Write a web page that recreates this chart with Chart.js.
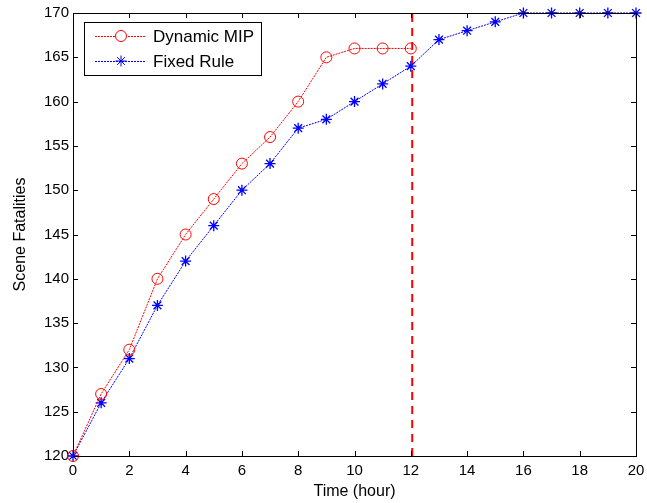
<!DOCTYPE html>
<html>
<head>
<meta charset="utf-8">
<script src="https://cdn.jsdelivr.net/npm/chart.js@4.4.0/dist/chart.umd.min.js"></script>
<style>
  html, body { margin: 0; padding: 0; background: #fff; }
  #wrap { width: 647px; height: 503px; position: relative; }
</style>
</head>
<body>
<div id="wrap"><canvas id="chart" width="647" height="503"></canvas></div>
<script>
const hours = [0, 1, 2, 3, 4, 5, 6, 7, 8, 9, 10, 11, 12, 13, 14, 15, 16, 17, 18, 19, 20];
const dynamicMip = [120, 127, 132, 140, 145, 149, 153, 156, 160, 165, 166, 166, 166];
const fixedRule = [120, 126, 131, 137, 142, 146, 150, 153, 157, 158, 160, 162, 164, 167, 168, 169, 170, 170, 170, 170, 170];
const switchHour = 12.05;
const yRange = [120, 170];

const FONT = "Arial, 'Liberation Sans', sans-serif";

function toPoints(values) {
  return values.map((v, i) => ({ x: hours[i], y: v }));
}

// box, inside ticks and the legend, drawn the way matlab does it
const matlabFrame = {
  id: "matlabFrame",
  afterDatasetsDraw(chart) {
    const { ctx, chartArea: a, scales } = chart;
    ctx.save();
    ctx.strokeStyle = "#000";
    ctx.lineWidth = 1;
    ctx.strokeRect(Math.round(a.left) + 0.5, Math.round(a.top) + 0.5, Math.round(a.right - a.left), Math.round(a.bottom - a.top));

    ctx.beginPath();
    scales.x.ticks.forEach((t) => {
      const px = Math.round(scales.x.getPixelForValue(t.value)) + 0.5;
      ctx.moveTo(px, a.bottom);
      ctx.lineTo(px, a.bottom - 5);
      ctx.moveTo(px, a.top);
      ctx.lineTo(px, a.top + 5);
    });
    scales.y.ticks.forEach((t) => {
      const py = Math.round(scales.y.getPixelForValue(t.value)) + 0.5;
      ctx.moveTo(a.left, py);
      ctx.lineTo(a.left + 5, py);
      ctx.moveTo(a.right, py);
      ctx.lineTo(a.right - 5, py);
    });
    ctx.stroke();

    // legend
    const lx = 84, ly = 22, lw = 177, lh = 53;
    ctx.fillStyle = "#fff";
    ctx.fillRect(lx, ly, lw, lh);
    ctx.strokeRect(lx + 0.5, ly + 0.5, lw, lh);
    ctx.font = "17px " + FONT;
    ctx.textBaseline = "middle";
    [0, 1].forEach((i) => {
      const ds = chart.data.datasets[i];
      const ry = ly + 14 + i * 25;
      ctx.strokeStyle = ds.borderColor;
      ctx.lineWidth = 1;
      ctx.setLineDash([2, 1]);
      ctx.beginPath();
      ctx.moveTo(95, ry + 0.5);
      ctx.lineTo(146, ry + 0.5);
      ctx.stroke();
      ctx.setLineDash([]);
      ctx.fillStyle = "#fff";
      Chart.helpers.drawPoint(ctx, {
        pointStyle: ds.pointStyle,
        radius: ds.pointRadius,
        borderWidth: ds.pointBorderWidth,
        rotation: 0,
      }, 121, ry);
      ctx.fillStyle = "#000";
      ctx.fillText(ds.label, 153, ry + 1);
    });
    ctx.restore();
  },
};

new Chart(document.getElementById("chart"), {
  type: "scatter",
  data: {
    datasets: [
      {
        label: "Dynamic MIP",
        data: toPoints(dynamicMip),
        showLine: true,
        borderColor: "#ff0000",
        backgroundColor: "rgba(0,0,0,0)",
        borderWidth: 1,
        borderDash: [2, 1],
        pointStyle: "circle",
        pointRadius: 5.5,
        pointBackgroundColor: "rgba(0,0,0,0)",
        pointBorderColor: "#ff0000",
        pointBorderWidth: 1,
      },
      {
        label: "Fixed Rule",
        data: toPoints(fixedRule),
        showLine: true,
        borderColor: "#0000ff",
        backgroundColor: "#0000ff",
        borderWidth: 1,
        borderDash: [2, 1],
        pointStyle: "star",
        pointRadius: 5.5,
        pointBorderColor: "#0000ff",
        pointBorderWidth: 1.3,
      },
      {
        label: "switch",
        data: [{ x: switchHour, y: yRange[0] }, { x: switchHour, y: yRange[1] }],
        showLine: true,
        borderColor: "#ff0000",
        borderWidth: 2,
        borderDash: [8, 6],
        pointRadius: 0,
      },
    ],
  },
  options: {
    responsive: false,
    animation: false,
    clip: false,
    layout: { padding: { top: 13, right: 11, left: 0, bottom: 0 } },
    plugins: {
      legend: { display: false },
      tooltip: { enabled: false },
    },
    scales: {
      x: {
        type: "linear",
        min: 0,
        max: 20,
        grid: { display: false, drawTicks: false },
        border: { display: false },
        ticks: { stepSize: 2, padding: 6, color: "#000", font: { size: 15, family: FONT } },
        title: { display: true, text: "Time (hour)", color: "#000", padding: { top: 0, bottom: 2 }, font: { size: 16, family: FONT } },
        afterFit: (s) => { s.height = 47; s.paddingLeft = 0; s.paddingRight = 0; },
      },
      y: {
        min: yRange[0],
        max: yRange[1],
        grid: { display: false, drawTicks: false },
        border: { display: false },
        ticks: { stepSize: 5, padding: 4, color: "#000", font: { size: 15, family: FONT } },
        title: { display: true, text: "Scene Fatalities", color: "#000", padding: { top: 11, bottom: 0 }, font: { size: 16, family: FONT } },
        afterFit: (s) => { s.width = 73; s.paddingTop = 0; s.paddingBottom = 0; },
      },
    },
  },
  plugins: [matlabFrame],
});
</script>
</body>
</html>
